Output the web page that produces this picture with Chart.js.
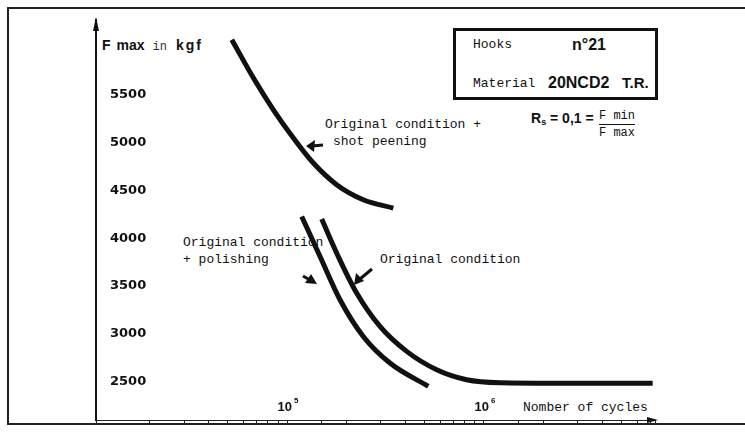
<!DOCTYPE html>
<html lang="en">
<head>
  <meta charset="UTF-8">
  <title>Hooks n°21 - Fmax vs number of cycles</title>
  <style>
    * { margin: 0; padding: 0; box-sizing: border-box; }

    body {
      width: 745px;
      height: 435px;
      background: #fff;
      color: #111;
      position: relative;
      overflow: hidden;
      font-family: 'Liberation Mono', 'Courier New', monospace;
    }

    .frame {
      position: absolute;
      left: 7px;
      top: 7px;
      width: 745px;
      height: 418px;
      border: 2px solid #222;
      border-right: none;
    }

    .chart-box {
      position: absolute;
      left: 0;
      top: 0;
      width: 745px;
      height: 435px;
      z-index: 2;
    }

    .txt {
      position: absolute;
      white-space: nowrap;
      font-size: 13px;
      line-height: 15px;
    }

    .bold {
      font-family: 'Liberation Sans', Arial, sans-serif;
      font-weight: bold;
    }

    .legend-box {
      position: absolute;
      left: 453px;
      top: 28px;
      width: 205px;
      height: 72px;
      border: 3px solid #111;
    }

    svg.marks {
      position: absolute;
      left: 0;
      top: 0;
    }
  </style>
</head>
<body>
<div class="frame"></div>

<!-- axis title -->
<div class="txt" style="left:102px; top:38px;">
  <span class="bold" style="font-size:14px;">F</span><span class="bold" style="font-size:14px; margin-left:6px;">max</span><span style="font-size:12px; margin-left:8px; color:#333;">in</span><span class="bold" style="font-size:14px; margin-left:9px; letter-spacing:2px;">kgf</span>
</div>

<!-- material box -->
<div class="legend-box"></div>
<div class="txt" style="left:473px; top:37px;">Hooks</div>
<div class="txt bold" style="left:572px; top:36px; font-size:16px; line-height:18px;">n°21</div>
<div class="txt" style="left:473px; top:76px;">Material</div>
<div class="txt bold" style="left:548px; top:74px; font-size:16px; line-height:18px;">20NCD2</div>
<div class="txt bold" style="left:622px; top:74px; font-size:15px; line-height:18px;">T.R.</div>

<!-- load ratio -->
<div class="txt bold" style="left:531px; top:110px; font-size:14px; line-height:16px;">R<span style="font-size:9px; vertical-align:-2px;">s</span> = 0,1 =</div>
<div class="txt" style="left:599px; top:109px; font-size:12px; line-height:14px; border-bottom:1px solid #111; padding-bottom:1px;">F min</div>
<div class="txt" style="left:599px; top:126px; font-size:12px; line-height:14px;">F max</div>

<!-- curve labels -->
<div class="txt" style="left:325px; top:117px;">Original condition +</div>
<div class="txt" style="left:333px; top:134px;">shot peening</div>
<div class="txt" style="left:183px; top:235px;">Original condition</div>
<div class="txt" style="left:183px; top:252px;">+ polishing</div>
<div class="txt" style="left:380px; top:252px;">Original condition</div>
<div class="txt" style="left:523px; top:400px;">Nomber of cycles</div>

<svg class="marks" width="745" height="435">
  <!-- shot peening arrow -->
  <line x1="323" y1="145" x2="312" y2="146" stroke="#111" stroke-width="3"/>
  <polygon points="306,146 315,140 314,152" fill="#111"/>
  <!-- polishing arrow -->
  <line x1="303" y1="276" x2="310" y2="280" stroke="#111" stroke-width="3"/>
  <polygon points="317,284 305,283 311,274" fill="#111"/>
  <!-- original condition arrow -->
  <line x1="372" y1="269" x2="360" y2="279" stroke="#111" stroke-width="3"/>
  <polygon points="354,285 356,273 364,281" fill="#111"/>
</svg>

<div class="chart-box">
  <canvas id="snChart"></canvas>
</div>

<script src="https://cdn.jsdelivr.net/npm/chart.js"></script>
<script>
  // values (cycles, Fmax in kgf)
  const shotPeeningN = [52400, 67500, 85200, 107700, 136000, 178600, 243800, 346500];
  const shotPeeningF = [6074, 5674, 5342, 5047, 4785, 4559, 4402, 4315];

  const polishingN = [118700, 147100, 185800, 243900, 333200, 521600];
  const polishingF = [4227, 3809, 3357, 2973, 2695, 2451];

  const originalN = [150000, 182000, 225700, 296500, 405300, 575700, 817000, 1205000, 2500000, 7200000];
  const originalF = [4200, 3809, 3427, 3078, 2817, 2625, 2521, 2490, 2485, 2485];

  const yTickLabels = [2500, 3000, 3500, 4000, 4500, 5000, 5500];
  const xDecades = [100000, 1000000];

  function toPoints(xs, ys) {
    return xs.map((x, i) => ({ x: x, y: ys[i] }));
  }

  function curve(xs, ys) {
    return {
      data: toPoints(xs, ys),
      showLine: true,
      borderColor: '#111',
      borderWidth: 5,
      pointRadius: 0,
      cubicInterpolationMode: 'monotone',
      borderCapStyle: 'butt'
    };
  }

  // arrow heads on both axes + decade labels sitting above the x axis
  const axisDecor = {
    id: 'axisDecor',
    afterDraw(chart) {
      const { ctx, chartArea: a } = chart;
      const xs = chart.scales.x;
      ctx.save();
      ctx.fillStyle = '#111';
      ctx.beginPath();
      ctx.moveTo(a.left, a.top - 3);
      ctx.lineTo(a.left - 3, a.top + 11);
      ctx.lineTo(a.left + 3, a.top + 11);
      ctx.closePath();
      ctx.fill();
      ctx.beginPath();
      ctx.moveTo(a.right + 3, a.bottom);
      ctx.lineTo(a.right - 8, a.bottom - 3);
      ctx.lineTo(a.right - 8, a.bottom + 3);
      ctx.closePath();
      ctx.fill();

      ctx.textBaseline = 'alphabetic';
      xDecades.forEach((d) => {
        const px = xs.getPixelForValue(d);
        const exp = String(Math.round(Math.log10(d)));
        ctx.font = 'bold 13px "Liberation Sans", Arial, sans-serif';
        ctx.textAlign = 'right';
        ctx.fillText('10', px + 5, a.bottom - 9);
        ctx.font = 'bold 8px "Liberation Sans", Arial, sans-serif';
        ctx.textAlign = 'left';
        ctx.fillText(exp, px + 7, a.bottom - 17);
      });
      ctx.restore();
    }
  };

  new Chart(document.getElementById('snChart'), {
    type: 'scatter',
    data: {
      datasets: [
        curve(shotPeeningN, shotPeeningF),
        curve(polishingN, polishingF),
        curve(originalN, originalF)
      ]
    },
    options: {
      responsive: true,
      maintainAspectRatio: false,
      animation: false,
      layout: { padding: { left: 96, right: 90, top: 20, bottom: 15 } },
      plugins: {
        legend: { display: false },
        tooltip: { enabled: false }
      },
      scales: {
        x: {
          type: 'logarithmic',
          min: 10700,
          max: 7400000,
          afterFit: (s) => { s.height = 0; s.paddingLeft = 0; s.paddingRight = 0; },
          border: { display: true, color: '#222', width: 1 },
          grid: { display: true, drawOnChartArea: false, tickLength: 3, color: '#222' },
          ticks: {
            autoSkip: false,
            maxRotation: 0,
            callback: () => ''
          }
        },
        y: {
          min: 2100,
          max: 6280,
          afterBuildTicks: (s) => { s.ticks = yTickLabels.map((v) => ({ value: v })); },
          afterFit: (s) => { s.width = 0; s.paddingTop = 0; s.paddingBottom = 0; },
          border: { display: true, color: '#111', width: 2 },
          grid: { display: false, drawTicks: false },
          ticks: {
            mirror: true,
            padding: 14,
            color: '#111',
            font: { family: 'DejaVu Sans', weight: 'bold', size: 13 },
            callback: (v) => String(v)
          }
        }
      }
    },
    plugins: [axisDecor]
  });
</script>
</body>
</html>
